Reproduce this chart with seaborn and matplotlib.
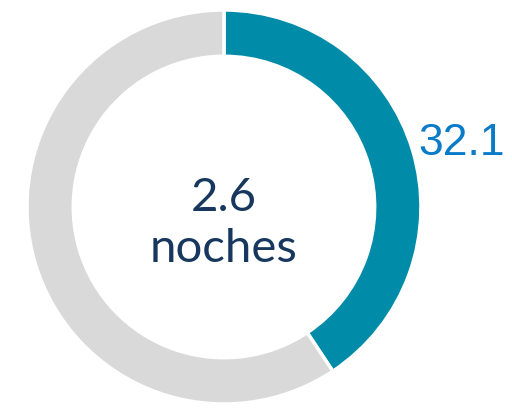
import matplotlib
matplotlib.use("Agg")
import matplotlib.pyplot as plt
import seaborn as sns

# data
labels = ["Segmento", "Resto"]
values = [32.1, 46.8]
value_label = "32.1"
center_value = "2.6"
center_unit = "noches"

colors = ["#008BA8", "#D9D9D9"]

sns.set_style("white")
plt.rcParams['font.family'] = ['Lato', 'DejaVu Sans']

fig = plt.figure(figsize=(5.12, 4.10), dpi=100)
ax = fig.add_axes([0.0527, 0.0122, 0.7695, 0.961])

ax.pie(values, colors=colors, startangle=90, counterclock=False, radius=1,
       wedgeprops=dict(width=0.235, edgecolor="white", linewidth=2.5))
ax.set_xlim(-1, 1)
ax.set_ylim(-1, 1)
ax.set_aspect("equal")
ax.axis("off")

ax.text(0.985, 0.325, value_label, ha="left", va="center", fontsize=32,
        color="#0A7BC8", family=['Liberation Sans', 'DejaVu Sans'], clip_on=False)
ax.text(0.0, 0.05, center_value, ha="center", va="center", fontsize=34,
        color="#17375E")
ax.text(0.0, -0.21, center_unit, ha="center", va="center", fontsize=34,
        color="#17375E")

fig.savefig("out.png", dpi=100)
